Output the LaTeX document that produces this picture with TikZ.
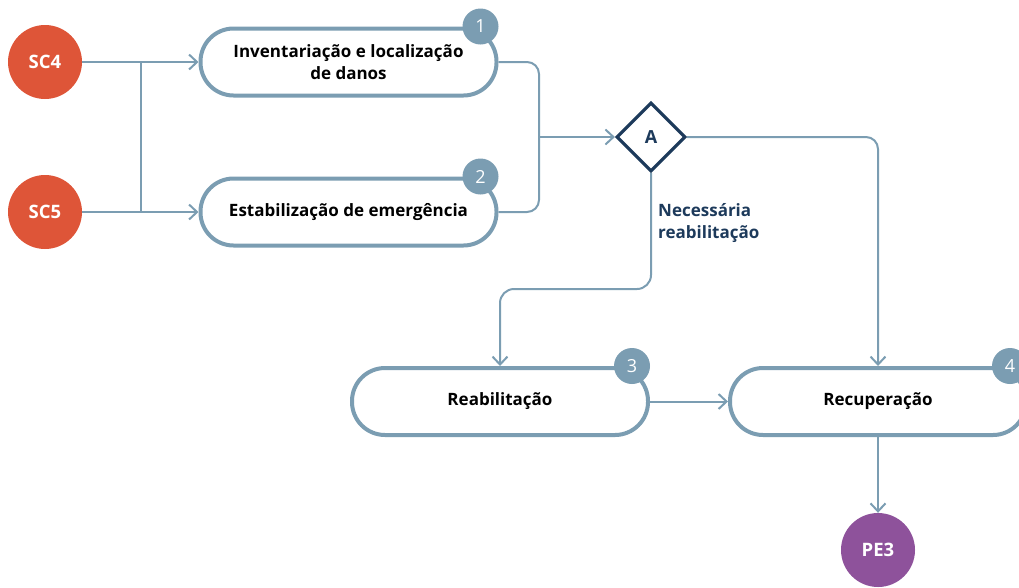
\documentclass[tikz,border=0pt]{standalone}
\usepackage{fontspec}
\setmainfont{Open Sans}
\usepackage{tikz}
\usetikzlibrary{arrows.meta, positioning, shapes.geometric}
\usepackage{xcolor}
\definecolor{flowline}{HTML}{7B9DB2}
\definecolor{scred}{HTML}{DE5538}
\definecolor{pepurple}{HTML}{8E529B}
\definecolor{navy}{HTML}{1D3A5B}

\begin{document}
\begin{tikzpicture}[
  x=1pt, y=-1pt,
  stage/.style={rectangle, draw=flowline, fill=white, line width=4pt, rounded corners=33pt, minimum height=67pt, minimum width=296pt, align=center, font=\bfseries\fontsize{17}{22}\selectfont},
  badge/.style={circle, fill=flowline, text=white, minimum size=36pt, inner sep=0pt, font=\fontsize{18}{18}\selectfont},
  source/.style={circle, fill=scred, text=white, minimum size=74pt, inner sep=0pt, font=\bfseries\fontsize{18.5}{18}\selectfont},
  sink/.style={circle, fill=pepurple, text=white, minimum size=74pt, inner sep=0pt, font=\bfseries\fontsize{18.5}{18}\selectfont},
  gate/.style={diamond, draw=navy, fill=white, line width=3.2pt, minimum width=69pt, minimum height=69pt, inner sep=0pt, text=navy, font=\bfseries\fontsize{18}{18}\selectfont},
  link/.style={draw=flowline, line width=2pt},
  arrow/.style={link, -{Straight Barb[length=8pt, width=15pt, line width=2pt]}}
]
\clip (0,0) rectangle (1019,587);

\node[source] (sc4) at (45,62) {SC4};
\node[source] (sc5) at (45,212) {SC5};
\node[stage] (inv) at (348.5,62) {Inventariação e localização\\de danos};
\node[stage] (est) at (348.5,212) {Estabilização de emergência};
\node[gate] (gA) at (651,137) {A};
\node[stage] (reab) at (500,401.5) {Reabilitação};
\node[stage] (recup) at (878,401.5) {Recuperação};
\node[sink] (pe3) at (878,550) {PE3};

\node[badge] (num1) at ([xshift=-18pt]inv.north east) {1};
\node[badge] (num2) at ([xshift=-18pt]est.north east) {2};
\node[badge] (num3) at ([xshift=-18pt]reab.north east) {3};
\node[badge] (num4) at ([xshift=-18pt]recup.north east) {4};

\node[anchor=north west, align=left, text=navy, font=\bfseries\fontsize{17}{22}\selectfont, inner sep=0pt] (need) at (658,203) {Necessária\\reabilitação};

\coordinate (forktop) at (141,62);
\coordinate (forkbot) at (141,212);
\coordinate (merge) at (539,137);
\coordinate (bend) at (575,289);

\draw[arrow] (sc4) -- (inv);
\draw[arrow] (sc5) -- (est);
\draw[link] (forktop) -- (forkbot);
\draw[link, rounded corners=12pt] (inv.east) -| (merge) |- (est.east);
\draw[arrow] (merge) -- (gA);
\draw[arrow, rounded corners=12pt] (gA.east) -| (recup.north);
\draw[arrow, rounded corners=14pt] (gA.south) |- (bend) -| (reab.north);
\draw[arrow] (reab) -- (recup);
\draw[arrow] (recup) -- (pe3);

\end{tikzpicture}
\end{document}
